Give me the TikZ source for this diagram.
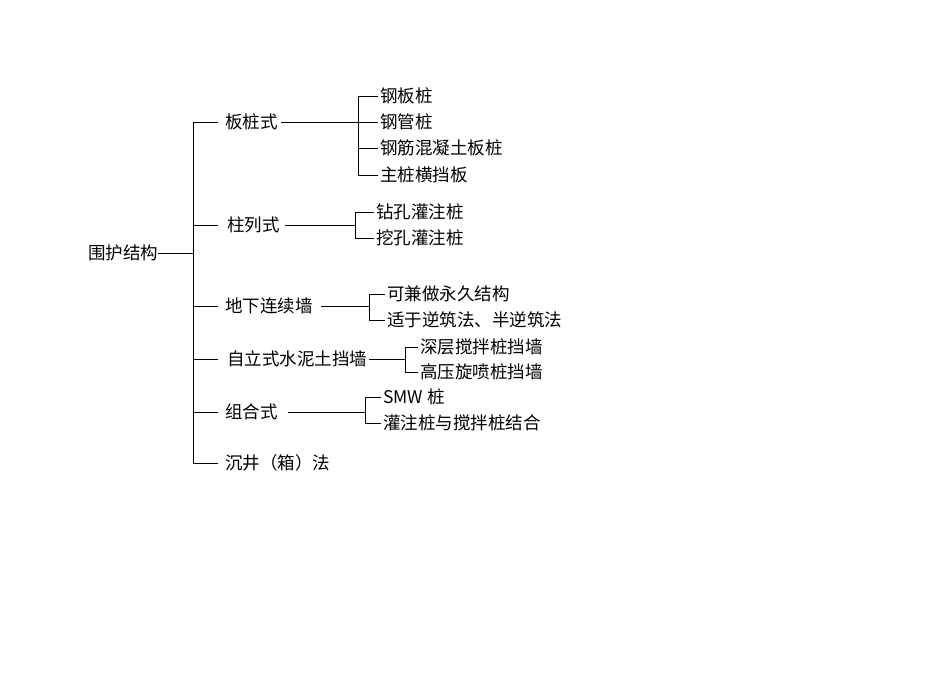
\documentclass[tikz,border=0pt]{standalone}
\usepackage{fontspec}
\setmainfont{Noto Sans CJK SC}
\begin{document}
\begin{tikzpicture}[x=1pt,y=-1pt,
  lbl/.style={anchor=west,inner sep=0pt,font=\fontsize{17.5}{18}\selectfont},
  ln/.style={line width=0.9pt,black}]
\useasboundingbox (0,0) rectangle (950,672);
\node[lbl] (root) at (88,253) {围护结构};
\coordinate (rv) at (193,253);
\draw[ln] (root.east) -- (rv);
\draw[ln] (193,122) -- (193,463);
% level 1
\node[lbl] (a) at (225,122) {板桩式};
\node[lbl] (b) at (227,225) {柱列式};
\node[lbl] (c) at (225,306) {地下连续墙};
\node[lbl] (d) at (227,359) {自立式水泥土挡墙};
\node[lbl] (e) at (225,412) {组合式};
\node[lbl] (f) at (225,463) {沉井（箱）法};
\foreach \n/\y in {a/122,b/225,c/306,d/359,e/412,f/463}{
  \coordinate (s\n) at (193,\y);
  \draw[ln] (s\n) -- (218,\y);
}
% a leaves
\node[lbl] (a1) at (380,96) {钢板桩};
\node[lbl] (a2) at (380,122) {钢管桩};
\node[lbl] (a3) at (380,148) {钢筋混凝土板桩};
\node[lbl] (a4) at (380,175) {主桩横挡板};
\coordinate (av) at (358,122);
\draw[ln] (a.east)++(3,0) -- (av);
\draw[ln] (358,96) -- (358,175);
\foreach \k in {a1,a2,a3,a4}{\draw[ln] (358,0 |- \k.west) -- ([xshift=-2pt]\k.west);}
% b leaves
\node[lbl] (b1) at (376,212) {钻孔灌注桩};
\node[lbl] (b2) at (376,238) {挖孔灌注桩};
\coordinate (bv) at (355,225);
\draw[ln] ([xshift=5pt]b.east) -- (bv);
\draw[ln] (355,212) -- (355,238);
\foreach \k in {b1,b2}{\draw[ln] (355,0 |- \k.west) -- ([xshift=-2pt]\k.west);}
% c leaves
\node[lbl] (c1) at (387,294) {可兼做永久结构};
\node[lbl] (c2) at (387,320) {适于逆筑法、半逆筑法};
\coordinate (cv) at (369,306);
\draw[ln] ([xshift=8pt]c.east) -- (cv);
\draw[ln] (369,294) -- (369,320);
\foreach \k in {c1,c2}{\draw[ln] (369,0 |- \k.west) -- ([xshift=-2pt]\k.west);}
% d leaves
\node[lbl] (d1) at (420,347) {深层搅拌桩挡墙};
\node[lbl] (d2) at (420,372) {高压旋喷桩挡墙};
\coordinate (dv) at (405,359);
\draw[ln] ([xshift=2pt]d.east) -- (dv);
\draw[ln] (405,347) -- (405,372);
\foreach \k in {d1,d2}{\draw[ln] (405,0 |- \k.west) -- ([xshift=-2pt]\k.west);}
% e leaves
\node[lbl] (e1) at (383,397) {SMW 桩};
\node[lbl] (e2) at (383,423) {灌注桩与搅拌桩结合};
\coordinate (ev) at (365,412);
\draw[ln] ([xshift=10pt]e.east) -- (ev);
\draw[ln] (365,397) -- (365,423);
\foreach \k in {e1,e2}{\draw[ln] (365,0 |- \k.west) -- ([xshift=-2pt]\k.west);}
\end{tikzpicture}
\end{document}
